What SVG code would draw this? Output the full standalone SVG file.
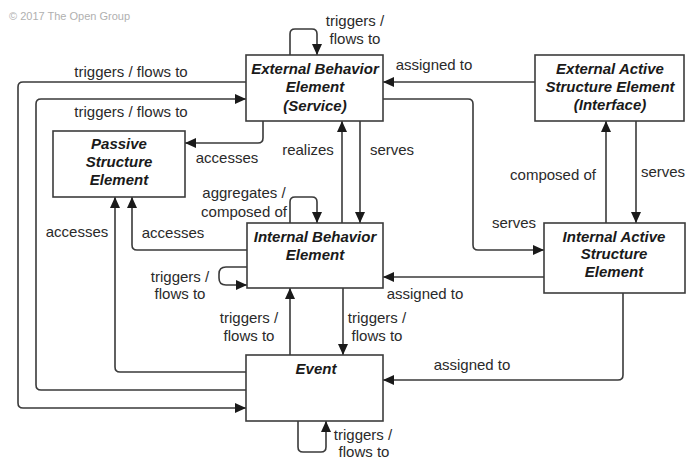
<svg xmlns="http://www.w3.org/2000/svg" width="698" height="459" viewBox="0 0 698 459">
<style>
  .box { fill: #ffffff; stroke: #3c3c3c; stroke-width: 1.6; }
  .title { font-family: "Liberation Sans", Arial, sans-serif; font-size: 15px; font-weight: bold; font-style: italic; fill: #1a1a1a; text-anchor: middle; }
  .lbl { font-family: "Liberation Sans", Arial, sans-serif; font-size: 15px; fill: #2a2a2a; text-anchor: middle; }
  .con { fill: none; stroke: #3a3a3a; stroke-width: 1.6; }
  .arr { marker-end: url(#ah); }
  .copy { font-family: "Liberation Sans", Arial, sans-serif; font-size: 11px; fill: #b0b0b0; }
</style>
<defs>
  <marker id="ah" markerUnits="userSpaceOnUse" markerWidth="11" markerHeight="10" refX="11" refY="5" orient="auto">
    <path d="M0,0 L11,5 L0,10 z" fill="#1a1a1a"/>
  </marker>
</defs>
<rect width="698" height="459" fill="#ffffff"/>
<text class="copy" x="9" y="20">© 2017 The Open Group</text>

<g id="connectors">
  <path class="con arr" d="M290,55 V34 Q290,29 295,29 H312 Q317,29 317,34 V55"/>
  <path class="con arr" d="M246,82 H23 Q18,82 18,87 V403 Q18,408 23,408 H246"/>
  <path class="con arr" d="M246,390 H41 Q36,390 36,385 V104 Q36,99 41,99 H246"/>
  <path class="con arr" d="M263,121 V138 Q263,143 258,143 H185"/>
  <path class="con arr" d="M342,223 V121"/>
  <path class="con arr" d="M360,121 V223"/>
  <path class="con arr" d="M535,82 H383"/>
  <path class="con arr" d="M383,99 H468 Q473,99 473,104 V245 Q473,250 478,250 H544"/>
  <path class="con arr" d="M606,223 V121"/>
  <path class="con arr" d="M636,121 V223"/>
  <path class="con arr" d="M544,277 H383"/>
  <path class="con arr" d="M623,293 V375 Q623,380 618,380 H383"/>
  <path class="con arr" d="M290,223 V202 Q290,197 295,197 H312 Q317,197 317,202 V223"/>
  <path class="con arr" d="M247,267 H226 Q219,267 219,274 V278 Q219,285 226,285 H247"/>
  <path class="con arr" d="M247,250 H137 Q132,250 132,245 V197"/>
  <path class="con arr" d="M246,372 H120 Q115,372 115,367 V197"/>
  <path class="con arr" d="M290,355 V288"/>
  <path class="con arr" d="M343,288 V355"/>
  <path class="con arr" d="M298,421 V447 Q298,452 303,452 H321 Q326,452 326,447 V421"/>

  <text class="lbl" x="131" y="77">triggers / flows to</text>
  <text class="lbl" x="131" y="117">triggers / flows to</text>
  <text class="lbl" x="355" y="26">triggers /</text>
  <text class="lbl" x="355" y="44">flows to</text>
  <text class="lbl" x="434" y="70">assigned to</text>
  <text class="lbl" x="227" y="163">accesses</text>
  <text class="lbl" x="308" y="155">realizes</text>
  <text class="lbl" x="392" y="155">serves</text>
  <text class="lbl" x="553" y="180">composed of</text>
  <text class="lbl" x="663" y="177">serves</text>
  <text class="lbl" x="514" y="228">serves</text>
  <text class="lbl" x="425" y="299">assigned to</text>
  <text class="lbl" x="472" y="370">assigned to</text>
  <text class="lbl" x="244" y="198">aggregates /</text>
  <text class="lbl" x="244" y="217">composed of</text>
  <text class="lbl" x="180" y="282">triggers /</text>
  <text class="lbl" x="180" y="299">flows to</text>
  <text class="lbl" x="173" y="238">accesses</text>
  <text class="lbl" x="77" y="237">accesses</text>
  <text class="lbl" x="249" y="323">triggers /</text>
  <text class="lbl" x="249" y="341">flows to</text>
  <text class="lbl" x="377" y="323">triggers /</text>
  <text class="lbl" x="377" y="341">flows to</text>
  <text class="lbl" x="363" y="440">triggers /</text>
  <text class="lbl" x="364" y="457">flows to</text>
</g>

<g id="ext-behavior">
  <rect class="box" x="246" y="55" width="137" height="66"/>
  <text class="title" x="315" y="74">External Behavior</text>
  <text class="title" x="315" y="92">Element</text>
  <text class="title" x="315" y="111">(Service)</text>
</g>
<g id="ext-active">
  <rect class="box" x="535" y="55" width="149" height="66"/>
  <text class="title" x="610" y="74">External Active</text>
  <text class="title" x="610" y="92">Structure Element</text>
  <text class="title" x="610" y="110">(Interface)</text>
</g>
<g id="passive">
  <rect class="box" x="53" y="131" width="132" height="66"/>
  <text class="title" x="119" y="149">Passive</text>
  <text class="title" x="119" y="167">Structure</text>
  <text class="title" x="119" y="185">Element</text>
</g>
<g id="int-behavior">
  <rect class="box" x="247" y="223" width="136" height="65"/>
  <text class="title" x="315" y="242">Internal Behavior</text>
  <text class="title" x="315" y="260">Element</text>
</g>
<g id="int-active">
  <rect class="box" x="544" y="223" width="141" height="70"/>
  <text class="title" x="614" y="242">Internal Active</text>
  <text class="title" x="614" y="259">Structure</text>
  <text class="title" x="614" y="277">Element</text>
</g>
<g id="event">
  <rect class="box" x="246" y="355" width="137" height="66"/>
  <text class="title" x="316" y="374">Event</text>
</g>
</svg>
